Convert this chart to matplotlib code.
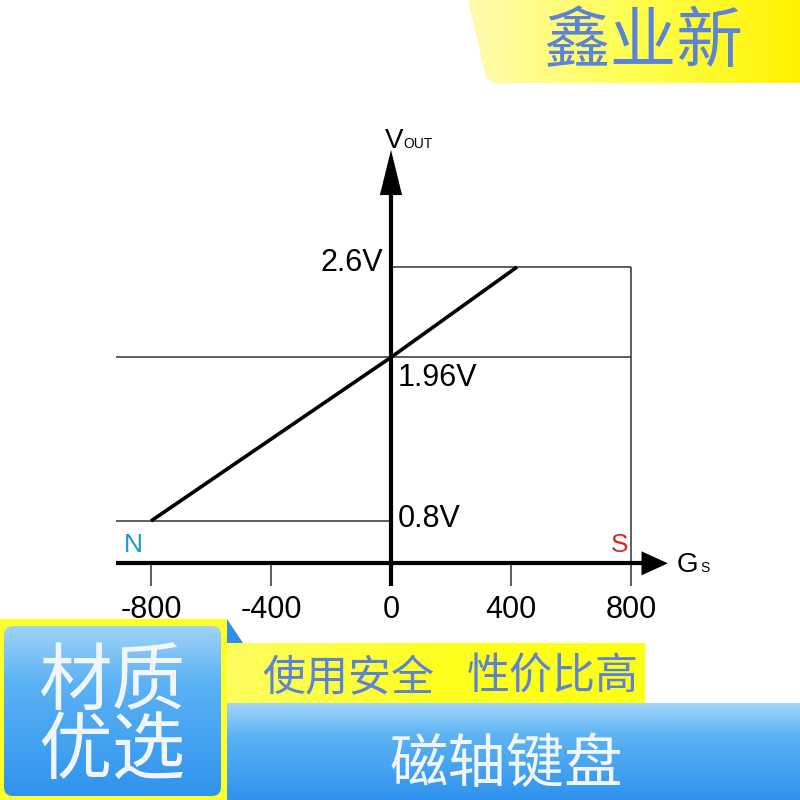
import matplotlib
matplotlib.use("Agg")
import matplotlib.pyplot as plt
import numpy as np
from matplotlib.patches import Polygon, Rectangle, FancyBboxPatch
from matplotlib.colors import LinearSegmentedColormap

# --- DADOS ---
gauss = [-800, 0, 420]          # campo (Gs)
vout = [0.8, 1.96, 2.6]         # tensao de saida (V)
x_ticks = [-800, -400, 0, 400, 800]
x_tick_labels = ["-800", "-400", "0", "400", "800"]
v_niveis = [0.8, 1.96, 2.6]
v_labels = ["0.8V", "1.96V", "2.6V"]
campo_max = 800

titulo = "鑫业新"
selo = ["材质", "优选"]
faixa1 = ["使用安全", "性价比高"]
faixa2 = "磁轴键盘"

LAT = ["Liberation Sans Narrow", "Liberation Sans", "DejaVu Sans"]
CJK = ["Noto Sans CJK SC", "DejaVu Sans"]
AZUL_TXT = "#5b84d6"

fig = plt.figure(figsize=(8, 8), dpi=100)

# --- FUNDO DECORATIVO (coordenadas em pixels) ---
bg = fig.add_axes([0, 0, 1, 1], zorder=0)
bg.set_xlim(0, 800)
bg.set_ylim(800, 0)
bg.axis("off")


def gradiente(ax, extent, cores, horizontal=True, clip=None, n=256):
    cmap = LinearSegmentedColormap.from_list("g", cores)
    g = np.linspace(0, 1, n)
    img = g[np.newaxis, :] if horizontal else g[:, np.newaxis]
    im = ax.imshow(img, cmap=cmap, extent=extent, aspect="auto",
                   interpolation="bicubic", zorder=1)
    if clip is not None:
        im.set_clip_path(clip)
    return im


# banner superior direito
poly = Polygon([(468, 0), (800, 0), (800, 83), (494, 83), (486, 77), (468, 0)],
               closed=True, facecolor="none", edgecolor="none")
bg.add_patch(poly)
gradiente(bg, (468, 800, 83, 0), ["#fffbb0", "#ffff50", "#fff200"], clip=poly)
bg.text(643, 43, titulo, family=CJK, fontsize=48, color=AZUL_TXT,
        ha="center", va="center", zorder=3)

# selo inferior esquerdo
bg.add_patch(Rectangle((0, 619), 227, 181, facecolor="#ffff2a",
                       edgecolor="none", zorder=1))
caixa = FancyBboxPatch((4, 626), 217, 170, boxstyle="round,pad=0,rounding_size=9",
                       facecolor="none", edgecolor="none")
bg.add_patch(caixa)
gradiente(bg, (4, 221, 796, 626), ["#9fd3f8", "#5cb2f4", "#45a3f1", "#2f93ee"],
          horizontal=False, clip=caixa).set_zorder(2)
bg.text(112, 683, selo[0], family=CJK, fontsize=53, color="#f2f6fb",
        ha="center", va="center", zorder=3)
bg.text(112, 752, selo[1], family=CJK, fontsize=53, color="#f2f6fb",
        ha="center", va="center", zorder=3)

# triangulo azul
bg.add_patch(Polygon([(227, 619), (243, 643), (227, 643)], closed=True,
                     facecolor="#2f8fe8", edgecolor="none", zorder=2))

# faixa amarela
gradiente(bg, (227, 645, 703, 643), ["#fdfd60", "#ffff20", "#ffff10"])
bg.text(348, 678, faixa1[0], family=CJK, fontsize=31, color=AZUL_TXT,
        ha="center", va="center", zorder=3)
bg.text(553, 678, faixa1[1], family=CJK, fontsize=31, color=AZUL_TXT,
        ha="center", va="center", zorder=3)

# faixa azul
gradiente(bg, (227, 800, 800, 703), ["#a5d6f9", "#5cb2f4", "#45a3f1", "#2f92ee"],
          horizontal=False)
bg.text(506, 765, faixa2, family=CJK, fontsize=42, color="#f2f6fb",
        ha="center", va="center", zorder=3)

# --- GRAFICO ---
ax = fig.add_axes([0, 0, 1, 1], zorder=1)
ax.patch.set_alpha(0)
ax.set_xlim(-1303.3, 1363.3)
ax.set_ylim(-1.1773, 4.4924)

eixo_y = 0.5
ax.spines["top"].set_visible(False)
ax.spines["right"].set_visible(False)
ax.spines["bottom"].set_position(("data", eixo_y))
ax.spines["left"].set_position(("data", 0))
ax.spines["bottom"].set_bounds(-917, 835)
ax.spines["left"].set_bounds(0.339, 3.12)
for s in ("bottom", "left"):
    ax.spines[s].set_linewidth(3)
    ax.spines[s].set_color("black")
    ax.spines[s].set_capstyle("butt")

ax.set_yticks([])
ax.set_xticks(x_ticks)
ax.set_xticklabels(x_tick_labels, family=LAT, fontsize=22)
ax.tick_params(axis="x", direction="out", length=16.5, width=1.1,
               color="#333333", pad=6)

# linhas de referencia
cinza = "#333333"
ax.hlines(v_niveis[2], 0, campo_max, color=cinza, lw=1.1)
ax.hlines(v_niveis[1], -917, campo_max, color=cinza, lw=1.1)
ax.hlines(v_niveis[0], -917, 0, color=cinza, lw=1.1)
ax.vlines(campo_max, eixo_y, v_niveis[2], color=cinza, lw=1.1)

# curva de saida
ax.plot(gauss, vout, color="black", lw=2.6, solid_capstyle="butt", zorder=4)

# setas
ax.fill([835, 923, 835], [eixo_y + 0.085, eixo_y, eixo_y - 0.085],
        color="black", lw=0, zorder=5)
ax.fill([-37, 37, 0], [3.11, 3.11, 3.43], color="black", lw=0, zorder=5)

# rotulos de tensao
ax.text(-27, 2.63, v_labels[2], family=LAT, fontsize=22, ha="right", va="center")
ax.text(23, 1.81, v_labels[1], family=LAT, fontsize=22, ha="left", va="center")
ax.text(23, 0.815, v_labels[0], family=LAT, fontsize=22, ha="left", va="center")

# nomes dos eixos
ax.text(-20, 3.443, "V", family=LAT, fontsize=20, ha="left", va="baseline")
ax.text(40, 3.443, "OUT", family=LAT, fontsize=10, ha="left", va="baseline")
ax.text(953, 0.439, "G", family=LAT, fontsize=20, ha="left", va="baseline")
ax.text(1030, 0.439, "S", family=LAT, fontsize=10, ha="left", va="baseline")

# polos
ax.text(-860, 0.63, "N", family=LAT, fontsize=19, color="#1b98d9",
        ha="center", va="center")
ax.text(763, 0.63, "S", family=LAT, fontsize=19, color="#d42a2a",
        ha="center", va="center")

fig.savefig("out.png", dpi=100)
